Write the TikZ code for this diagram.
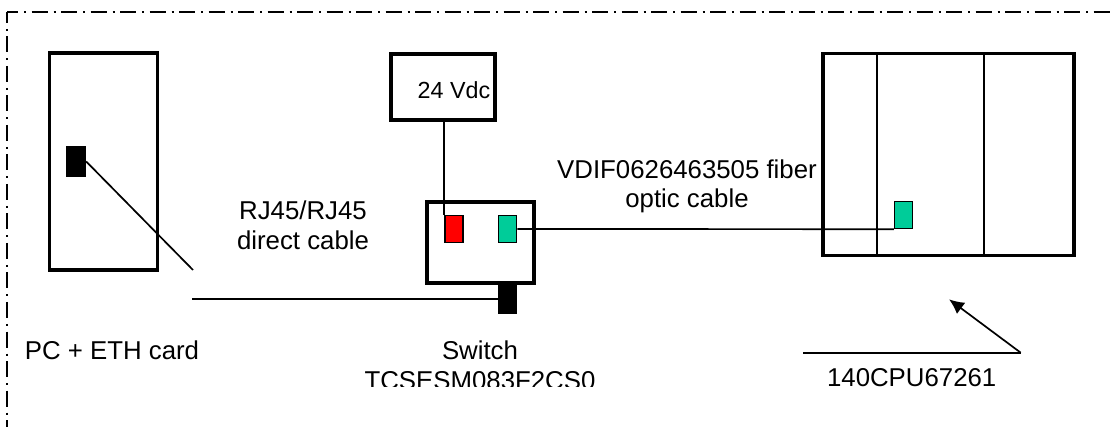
\documentclass[tikz,border=0pt]{standalone}
\usepackage{fontspec}
\setmainfont{Liberation Sans}
\usetikzlibrary{arrows.meta}
\definecolor{portgreen}{RGB}{0, 204, 153}

\begin{document}
\begin{tikzpicture}[
  x=1pt, y=-1pt,
  cbox/.style={draw, line width=3.4pt, minimum width=#1, inner sep=0pt},
  port/.style={draw, line width=1.4pt, minimum width=18pt, minimum height=27pt, inner sep=0pt},
  wire/.style={line width=1.7pt},
  frameline/.style={line width=1.4pt, dash pattern=on 16pt off 6pt on 2pt off 5.5pt, dash phase=5pt},
  lbl/.style={font=\fontsize{25.8}{29.6}\selectfont, align=center, inner sep=0pt}
]
  \useasboundingbox (0, 0) rectangle (1110, 427);

  % outer frame
  \draw[frameline] (7, 12) -- (1110, 12);
  \draw[frameline] (7, 12) -- (7, 427);

  % boxes
  \node[cbox=108pt, minimum height=217pt] (pc) at (103.3, 161.5) {};
  \node[cbox=104pt, minimum height=66pt] (vdc) at (443, 87) {};
  \node[cbox=107pt, minimum height=81pt] (switch) at (480.5, 242.5) {};
  \node[cbox=251pt, minimum height=201.5pt] (rack) at (948.5, 154.5) {};

  % ports
  \node[port, fill=black, minimum width=19pt, minimum height=29pt] (pcport) at (76, 161.5) {};
  \node[port, fill=red] (powerport) at (453.8, 229) {};
  \node[port, fill=portgreen] (fiberport) at (507.6, 229) {};
  \node[port, fill=black, minimum height=28pt] (ethport) at (507.6, 299) {};
  \node[port, fill=portgreen] (cpuport) at (903.5, 215) {};

  % rack slots
  \draw[wire] (rack.north west -| 876.7, 0) -- (rack.south west -| 876.7, 0);
  \draw[wire] (rack.north west -| 984.3, 0) -- (rack.south west -| 984.3, 0);

  % cables
  \coordinate (pcend) at (193, 270);
  \coordinate (ethstart) at (192, 299);
  \draw[wire] (pcport.east) -- (pcend);
  \draw[wire] (ethstart) -- (ethport.west);
  \draw[wire] (powerport.north west |- vdc.south) -- (powerport.north west);
  \draw[wire] (fiberport.east) -- (cpuport.south west);

  % CPU pointer
  \coordinate (cpustart) at (803, 352.7);
  \coordinate (cpubend) at (1020.7, 352.7);
  \coordinate (cpuend) at (949, 299.3);
  \draw[wire] (cpustart) -- (cpubend);
  \draw[wire, -{Latex[length=15pt, width=14pt]}] (cpubend) -- (cpuend);

  % labels
  \node[lbl] (pclabel) at (112, 350) {PC + ETH card};
  \node[lbl] (rjlabel) at (303, 225.5) {RJ45/RJ45\\direct cable};
  \node[lbl, font=\fontsize{23.3}{28}\selectfont] (vdclabel) at (454, 90.5) {24 Vdc};
  \node[lbl] (fiberlabel) at (687, 186.5) {VDIF0626463505 fiber\\optic cable};
  \node[lbl] (cpulabel) at (911.7, 378) {140CPU67261};
  \begin{scope}
    \clip (340, 330) rectangle (620, 386.5);
    \node[lbl] (switchlabel) at (480, 365) {Switch\\TCSESM083F2CS0};
  \end{scope}
\end{tikzpicture}
\end{document}
